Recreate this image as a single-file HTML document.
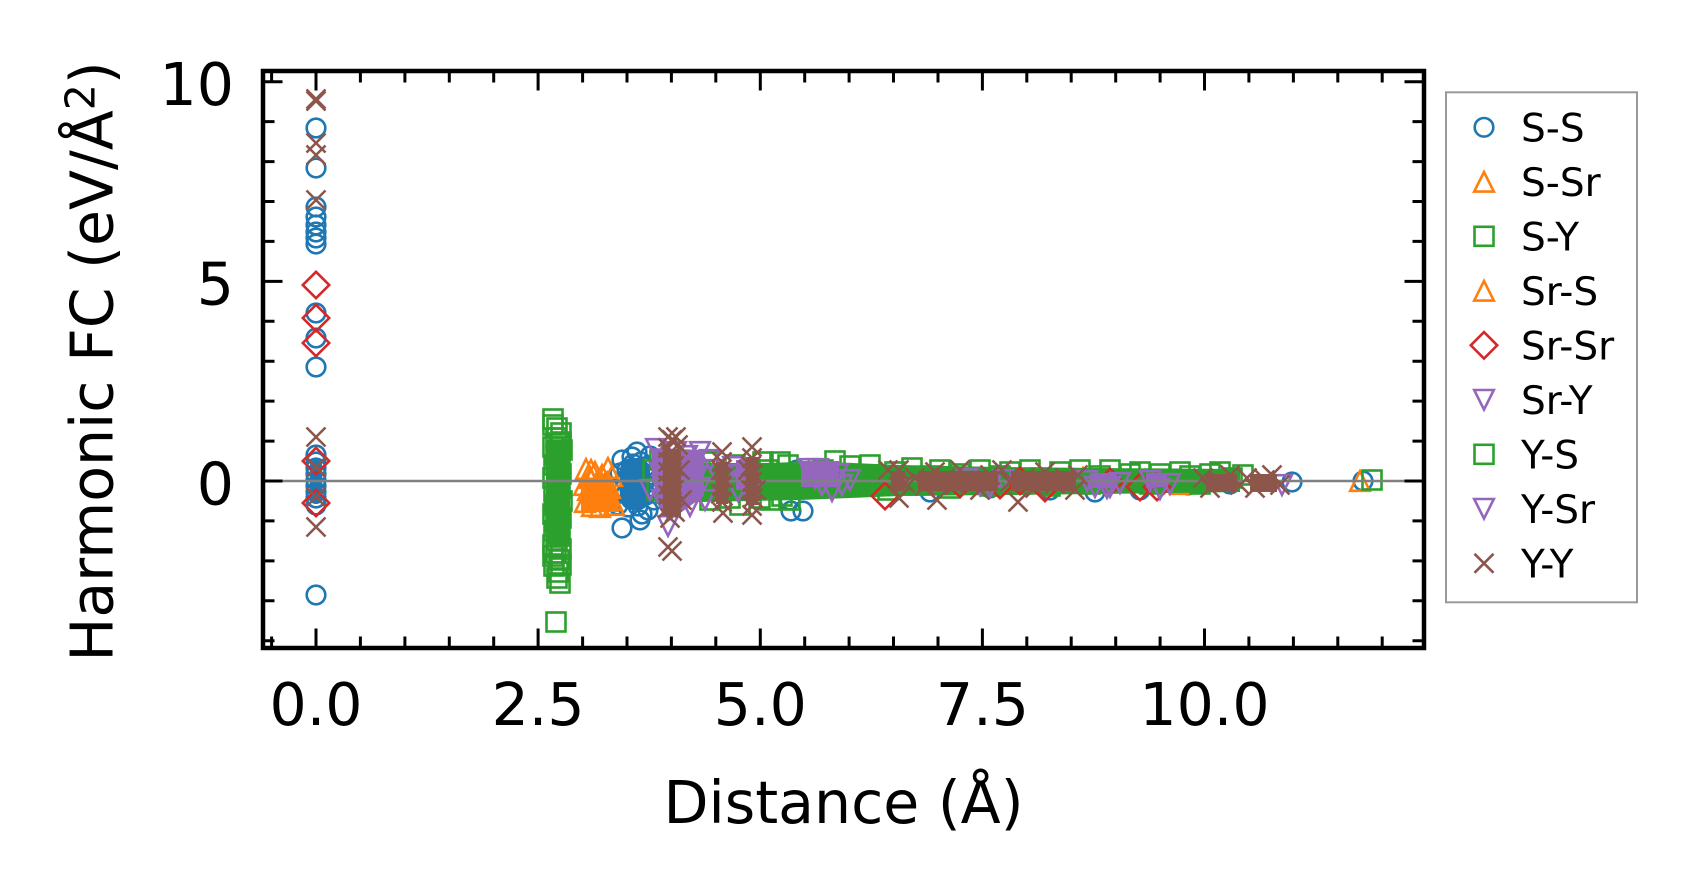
<!DOCTYPE html>
<html><head><meta charset="utf-8"><style>
html,body{margin:0;padding:0;background:#fff;}
svg{display:block;}
text{font-family:"DejaVu Sans","Liberation Sans",sans-serif;fill:#000;}
</style></head><body>
<svg width="1697" height="894" viewBox="0 0 1697 894" xmlns="http://www.w3.org/2000/svg">
<defs>
<marker id="mc" markerUnits="userSpaceOnUse" markerWidth="40" markerHeight="40" refX="20" refY="20"><circle cx="20" cy="20" r="9.3" fill="none" stroke="#1f77b4" stroke-width="2.6"/></marker>
<marker id="mt" markerUnits="userSpaceOnUse" markerWidth="40" markerHeight="40" refX="20" refY="20"><path d="M20,10.2 L29.8,29.8 L10.2,29.8 Z" fill="none" stroke="#ff7f0e" stroke-width="2.6"/></marker>
<marker id="ms" markerUnits="userSpaceOnUse" markerWidth="40" markerHeight="40" refX="20" refY="20"><rect x="10.5" y="10.5" width="19" height="19" fill="none" stroke="#2ca02c" stroke-width="2.6"/></marker>
<marker id="md" markerUnits="userSpaceOnUse" markerWidth="40" markerHeight="40" refX="20" refY="20"><path d="M20,6.8 L33.2,20 L20,33.2 L6.8,20 Z" fill="none" stroke="#d62728" stroke-width="2.6"/></marker>
<marker id="mv" markerUnits="userSpaceOnUse" markerWidth="40" markerHeight="40" refX="20" refY="20"><path d="M20,29.8 L29.8,10.2 L10.2,10.2 Z" fill="none" stroke="#9467bd" stroke-width="2.6"/></marker>
<marker id="mx" markerUnits="userSpaceOnUse" markerWidth="40" markerHeight="40" refX="20" refY="20"><path d="M10.5,10.5 L29.5,29.5 M29.5,10.5 L10.5,29.5" fill="none" stroke="#8c564b" stroke-width="2.6"/></marker>
</defs>

<!-- S-S blue circles -->
<g fill="#1f77b4">
<rect x="310" y="460" width="12" height="44" rx="5"/>
<rect x="620" y="458" width="30" height="52" rx="12"/>
</g>
<polyline fill="none" stroke="none" marker-start="url(#mc)" marker-mid="url(#mc)" marker-end="url(#mc)" points="316,128 316,168 316,207 316,217 316,225 316,232 316,238 316,244 316,313 316,338 316,367 316,455 316,462 316,468 316,474 316,480 316,486 316,492 316,498 316,505 316,595 622,528 627,470 632,457 637,452 641,462 645,467 650,456 630,490 634,498 638,506 642,514 646,495 625,480 635,481 644,483 652,475 628,507 640,520 648,510 655,488 620,473 633,464 654,500 618,490 622,460 618,505 636,470 626,494 791,511 803,511 797,470 785,478 790,500 860,487 930,492 990,488 1050,490 1095,492 1140,490 1188,485 1230,484 1292,482 1363,481"/>

<!-- S-Sr / Sr-S orange triangles -->
<polygon fill="#ff7f0e" points="581,512 581,486 587,472 593,484 600,476 608,470 614,482 618,496 618,512"/>
<polyline fill="none" stroke="none" marker-start="url(#mt)" marker-mid="url(#mt)" marker-end="url(#mt)" points="586,469 590,478 595,472 600,480 605,485 608,468 612,476 588,490 593,495 598,500 603,493 610,488 585,502 592,506 600,507 607,498 612,500 596,484 602,475 591,470 584,485 614,505 1360,481 1083,478 795,478 960,482 1150,483 1180,484 905,478 1120,480"/>

<!-- S-Y / Y-S green squares -->
<g fill="#2ca02c">
<rect x="546" y="440" width="24" height="104"/>
<polygon points="655,462 700,463 760,463 800,462 830,462 900,465 1000,467 1100,468 1240,469 1240,492 1100,494 1000,495 900,496 800,500 700,502 655,504"/>
</g>
<polyline fill="none" stroke="none" marker-start="url(#ms)" marker-mid="url(#ms)" marker-end="url(#ms)" points="553,419 557,428 561,433 556,438 559,443 553,447 562,450 556,455 560,460 554,465 558,470 561,474 553,478 557,483 560,488 554,492 558,497 562,501 555,505 559,510 553,514 561,518 556,522 559,527 554,531 560,536 557,540 553,545 561,549 556,553 559,560 554,566 558,572 557,578 560,583 556,622 553,425 561,442 553,556 561,565 653,470 657,490 660,460 700,470 708,462 715,470 720,490 725,480 730,498 735,465 740,505 745,485 750,470 763,462 768,470 772,480 777,488 782,496 788,465 793,478 790,500 770,500 780,462 710,500 760,498 823,470 835,461 845,475 850,466 858,485 870,465 880,478 888,490 895,472 905,480 912,468 920,485 930,476 940,470 950,488 960,474 970,480 980,470 990,486 1000,476 1010,472 1020,484 1030,470 1040,478 1050,486 1060,472 1070,480 1080,470 1090,484 1100,476 1110,470 1120,480 1130,474 1140,472 1150,484 1160,474 1170,480 1180,472 1190,476 1200,484 1210,474 1220,472 1232,478 1243,475 1372,480"/>

<!-- Sr-Sr red diamonds -->
<polyline fill="none" stroke="none" marker-start="url(#md)" marker-mid="url(#md)" marker-end="url(#md)" points="316,285 316,318 316,343 316,461 316,503 885,496 1020,481 1140,487 1157,487 1000,485 960,484 680,476 1045,488 1110,482"/>

<!-- Sr-Y / Y-Sr purple down triangles -->
<g fill="#9467bd">
<polygon points="652,448 704,450 704,496 690,506 668,522 658,500 652,478"/>
<rect x="736" y="460" width="21" height="30"/>
<rect x="801" y="461" width="38" height="26"/>
<rect x="970" y="472" width="30" height="16"/>
<rect x="1090" y="473" width="27" height="15"/>
<rect x="1146" y="473" width="21" height="14"/>
</g>
<polyline fill="none" stroke="none" marker-start="url(#mv)" marker-mid="url(#mv)" marker-end="url(#mv)" points="656,449 660,473 662,500 668,526 687,456 692,466 697,476 700,488 705,500 710,460 715,470 690,506 733,467 740,475 745,485 750,491 738,491 808,469 815,478 822,485 832,491 818,469 838,474 842,485 850,480 967,479 980,485 990,487 1003,480 1087,481 1095,487 1110,487 1120,483 1107,488 1150,481 1160,489 1170,484 1282,485 676,452 700,452 650,490"/>

<!-- zero line -->
<line x1="263" y1="481" x2="1424" y2="481" stroke="#808080" stroke-width="2.6"/>

<!-- Y-Y brown x -->
<g fill="#8c564b">
<rect x="663" y="450" width="18" height="66"/>
<rect x="716" y="462" width="12" height="42"/>
<rect x="746" y="457" width="12" height="48"/>
<rect x="891" y="471" width="14" height="20"/>
<rect x="918" y="471" width="80" height="20"/>
<rect x="1011" y="471" width="65" height="20"/>
<rect x="1206" y="474" width="31" height="18"/>
<rect x="1250" y="474" width="27" height="18"/>
</g>
<polyline fill="none" stroke="none" marker-start="url(#mx)" marker-mid="url(#mx)" marker-end="url(#mx)" points="316,99 316,101 316,143 316,155 316,200 316,437 316,467 316,497 316,527 668,437 672,440 676,437 668,448 672,455 668,462 674,466 668,472 672,478 668,485 674,490 668,495 672,502 668,508 675,512 670,518 668,547 672,551 678,445 680,470 682,500 722,452 722,462 721,470 723,478 722,486 721,494 722,502 723,513 752,447 752,458 751,466 753,474 752,482 751,490 753,498 752,506 752,515 748,470 756,490 888,470 899,470 899,498 905,483 915,478 925,486 937,500 935,472 945,478 955,485 960,470 970,480 980,490 990,475 1002,470 1010,482 1018,502 1025,478 1035,488 1045,472 1055,484 1065,478 1075,490 1078,475 1203,478 1210,488 1220,482 1230,475 1240,485 1247,478 1255,488 1265,480 1272,475 1280,485"/>

<!-- ticks -->
<g stroke="#000" stroke-width="3" fill="none">
<path d="M316,648v-19.5 M538.1,648v-19.5 M760.3,648v-19.5 M982.4,648v-19.5 M1204.5,648v-19.5
M316,71v19.5 M538.1,71v19.5 M760.3,71v19.5 M982.4,71v19.5 M1204.5,71v19.5"/>
<path d="M271.6,648v-11.5 M360.4,648v-11.5 M404.9,648v-11.5 M449.3,648v-11.5 M493.7,648v-11.5 M582.6,648v-11.5 M627,648v-11.5 M671.4,648v-11.5 M715.8,648v-11.5 M804.7,648v-11.5 M849.1,648v-11.5 M893.5,648v-11.5 M938,648v-11.5 M1026.8,648v-11.5 M1071.2,648v-11.5 M1115.7,648v-11.5 M1160.1,648v-11.5 M1248.9,648v-11.5 M1293.4,648v-11.5 M1337.8,648v-11.5 M1382.2,648v-11.5
M271.6,71v11.5 M360.4,71v11.5 M404.9,71v11.5 M449.3,71v11.5 M493.7,71v11.5 M582.6,71v11.5 M627,71v11.5 M671.4,71v11.5 M715.8,71v11.5 M804.7,71v11.5 M849.1,71v11.5 M893.5,71v11.5 M938,71v11.5 M1026.8,71v11.5 M1071.2,71v11.5 M1115.7,71v11.5 M1160.1,71v11.5 M1248.9,71v11.5 M1293.4,71v11.5 M1337.8,71v11.5 M1382.2,71v11.5"/>
<path d="M263,81.7h19.5 M263,281.35h19.5 M263,481h19.5 M1424,81.7h-19.5 M1424,281.35h-19.5 M1424,481h-19.5"/>
<path d="M263,121.6h11.5 M263,161.6h11.5 M263,201.5h11.5 M263,241.4h11.5 M263,321.3h11.5 M263,361.2h11.5 M263,401.1h11.5 M263,441.1h11.5 M263,520.9h11.5 M263,560.9h11.5 M263,600.8h11.5 M263,640.7h11.5
M1424,121.6h-11.5 M1424,161.6h-11.5 M1424,201.5h-11.5 M1424,241.4h-11.5 M1424,321.3h-11.5 M1424,361.2h-11.5 M1424,401.1h-11.5 M1424,441.1h-11.5 M1424,520.9h-11.5 M1424,560.9h-11.5 M1424,600.8h-11.5 M1424,640.7h-11.5"/>
</g>

<!-- spines -->
<rect x="263" y="71" width="1161" height="577" fill="none" stroke="#000" stroke-width="4.5"/>

<!-- tick labels -->
<g font-size="58.5" text-anchor="end">
<text x="234" y="105">10</text>
<text x="234" y="304.7">5</text>
<text x="234" y="504.3">0</text>
</g>
<g font-size="58.5" text-anchor="middle">
<text x="316" y="725">0.0</text>
<text x="538.1" y="725">2.5</text>
<text x="760.3" y="725">5.0</text>
<text x="982.4" y="725">7.5</text>
<text x="1204.5" y="725">10.0</text>
</g>

<!-- axis labels -->
<text x="843.5" y="823" font-size="58.5" text-anchor="middle">Distance (Å)</text>
<text transform="translate(112.7,361.5) rotate(-90)" font-size="58.5" text-anchor="middle">Harmonic FC (eV/Å<tspan font-size="41" dy="-18">2</tspan><tspan dy="18">)</tspan></text>

<!-- legend -->
<rect x="1446" y="92.3" width="191" height="510" fill="#fff" stroke="#999" stroke-width="2"/>
<g>
<circle cx="1484" cy="127.3" r="9.3" fill="none" stroke="#1f77b4" stroke-width="2.6"/>
<path d="M1484,172 L1493.8,191.6 L1474.2,191.6 Z" fill="none" stroke="#ff7f0e" stroke-width="2.6"/>
<rect x="1474.5" y="226.8" width="19" height="19" fill="none" stroke="#2ca02c" stroke-width="2.6"/>
<path d="M1484,281 L1493.8,300.6 L1474.2,300.6 Z" fill="none" stroke="#ff7f0e" stroke-width="2.6"/>
<path d="M1484,332.1 L1497.2,345.3 L1484,358.5 L1470.8,345.3 Z" fill="none" stroke="#d62728" stroke-width="2.6"/>
<path d="M1484,409.6 L1493.8,390 L1474.2,390 Z" fill="none" stroke="#9467bd" stroke-width="2.6"/>
<rect x="1474.5" y="444.8" width="19" height="19" fill="none" stroke="#2ca02c" stroke-width="2.6"/>
<path d="M1484,518.6 L1493.8,499 L1474.2,499 Z" fill="none" stroke="#9467bd" stroke-width="2.6"/>
<path d="M1474.5,553.8 L1493.5,572.8 M1493.5,553.8 L1474.5,572.8" fill="none" stroke="#8c564b" stroke-width="2.6"/>
</g>
<g font-size="39">
<text x="1521" y="141.7">S-S</text>
<text x="1521" y="196.2">S-Sr</text>
<text x="1521" y="250.7">S-Y</text>
<text x="1521" y="305.2">Sr-S</text>
<text x="1521" y="359.7">Sr-Sr</text>
<text x="1521" y="414.2">Sr-Y</text>
<text x="1521" y="468.7">Y-S</text>
<text x="1521" y="523.2">Y-Sr</text>
<text x="1521" y="577.7">Y-Y</text>
</g>
</svg>
</body></html>
